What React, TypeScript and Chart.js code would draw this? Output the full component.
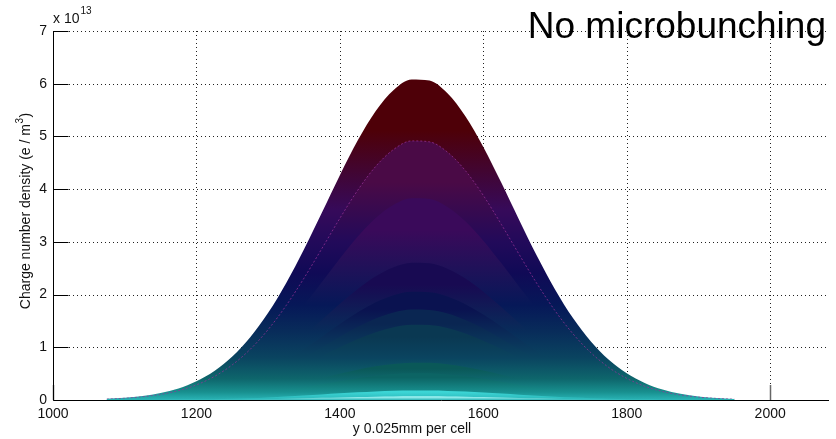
import React, { useEffect, useRef } from "react";
import { Chart, registerables } from "chart.js";

Chart.register(...registerables);

// x positions (cell index)
const cellPositions = [
  1075, 1100, 1125, 1150, 1175, 1200, 1225, 1250, 1275, 1300, 1325, 1350,
  1375, 1400, 1425, 1450, 1475, 1500, 1525, 1550, 1575, 1600, 1625, 1650,
  1675, 1700, 1725, 1750, 1775, 1800, 1825, 1850, 1875, 1900, 1925, 1950,
];

// charge number density layers (units of 1e13 e/m^3), largest first
const densityLayer01 = [
  0.023, 0.042, 0.076, 0.132, 0.22, 0.356, 0.551, 0.825, 1.191, 1.654, 2.216, 2.86,
  3.558, 4.265, 4.926, 5.484, 5.883, 6.082, 6.06, 5.818, 5.383, 4.801, 4.125, 3.416,
  2.726, 2.097, 1.554, 1.11, 0.764, 0.507, 0.324, 0.199, 0.118, 0.068, 0.037, 0.02,
];
const densityLayer02 = [
  0.018, 0.034, 0.062, 0.106, 0.178, 0.287, 0.446, 0.667, 0.962, 1.337, 1.791, 2.312,
  2.875, 3.447, 3.981, 4.432, 4.754, 4.915, 4.897, 4.702, 4.351, 3.88, 3.334, 2.761,
  2.203, 1.694, 1.256, 0.897, 0.617, 0.41, 0.262, 0.161, 0.096, 0.055, 0.03, 0.016,
];
const densityLayer03 = [
  0.014, 0.026, 0.048, 0.083, 0.139, 0.224, 0.347, 0.52, 0.75, 1.041, 1.395, 1.801,
  2.239, 2.685, 3.101, 3.452, 3.703, 3.828, 3.815, 3.663, 3.389, 3.022, 2.597, 2.15,
  1.716, 1.32, 0.978, 0.699, 0.481, 0.319, 0.204, 0.126, 0.074, 0.043, 0.023, 0.013,
];
const densityLayer04 = [
  0.01, 0.018, 0.033, 0.056, 0.094, 0.152, 0.236, 0.353, 0.509, 0.708, 0.948, 1.224,
  1.522, 1.825, 2.108, 2.346, 2.517, 2.602, 2.593, 2.489, 2.303, 2.054, 1.765, 1.462,
  1.166, 0.897, 0.665, 0.475, 0.327, 0.217, 0.139, 0.085, 0.051, 0.029, 0.016, 0.009,
];
const densityLayer05 = [
  0.008, 0.014, 0.026, 0.044, 0.074, 0.12, 0.186, 0.279, 0.402, 0.559, 0.748, 0.966,
  1.201, 1.44, 1.664, 1.852, 1.987, 2.054, 2.046, 1.965, 1.818, 1.621, 1.393, 1.154,
  0.921, 0.708, 0.525, 0.375, 0.258, 0.171, 0.109, 0.067, 0.04, 0.023, 0.013, 0.007,
];
const densityLayer06 = [
  0.006, 0.012, 0.022, 0.037, 0.062, 0.1, 0.155, 0.233, 0.336, 0.466, 0.625, 0.807,
  1.003, 1.202, 1.389, 1.546, 1.659, 1.715, 1.709, 1.641, 1.518, 1.354, 1.163, 0.963,
  0.769, 0.591, 0.438, 0.313, 0.215, 0.143, 0.091, 0.056, 0.033, 0.019, 0.01, 0.006,
];
const densityLayer07 = [
  0.005, 0.01, 0.018, 0.031, 0.052, 0.083, 0.129, 0.193, 0.279, 0.388, 0.52, 0.671,
  0.834, 1.0, 1.155, 1.286, 1.379, 1.426, 1.421, 1.364, 1.262, 1.125, 0.967, 0.801,
  0.639, 0.491, 0.364, 0.26, 0.179, 0.119, 0.076, 0.047, 0.028, 0.016, 0.009, 0.005,
];
const densityLayer08 = [
  0.003, 0.005, 0.009, 0.015, 0.026, 0.041, 0.064, 0.096, 0.139, 0.193, 0.258, 0.333,
  0.414, 0.496, 0.573, 0.638, 0.685, 0.708, 0.705, 0.677, 0.627, 0.559, 0.48, 0.398,
  0.317, 0.244, 0.181, 0.129, 0.089, 0.059, 0.038, 0.023, 0.014, 0.008, 0.004, 0.002,
];
const densityLayer09 = [
  0.002, 0.004, 0.006, 0.011, 0.018, 0.03, 0.046, 0.069, 0.1, 0.138, 0.185, 0.239,
  0.297, 0.357, 0.412, 0.458, 0.492, 0.508, 0.507, 0.486, 0.45, 0.401, 0.345, 0.286,
  0.228, 0.175, 0.13, 0.093, 0.064, 0.042, 0.027, 0.017, 0.01, 0.006, 0.003, 0.002,
];
const densityLayer10 = [
  0.001, 0.001, 0.002, 0.004, 0.006, 0.01, 0.016, 0.024, 0.035, 0.049, 0.065, 0.084,
  0.105, 0.126, 0.145, 0.162, 0.174, 0.179, 0.179, 0.172, 0.159, 0.142, 0.122, 0.101,
  0.08, 0.062, 0.046, 0.033, 0.023, 0.015, 0.01, 0.006, 0.003, 0.002, 0.001, 0.001,
];
const densityLayer11 = [
  0, 0, 0.001, 0.002, 0.003, 0.004, 0.006, 0.009, 0.014, 0.019, 0.025, 0.033,
  0.041, 0.049, 0.057, 0.063, 0.068, 0.07, 0.07, 0.067, 0.062, 0.055, 0.047, 0.039,
  0.031, 0.024, 0.018, 0.013, 0.009, 0.006, 0.004, 0.002, 0.001, 0.001, 0, 0,
];

const densityLayers = [
  densityLayer01, densityLayer02, densityLayer03, densityLayer04, densityLayer05, densityLayer06,
  densityLayer07, densityLayer08, densityLayer09, densityLayer10, densityLayer11,
];

const xTickValues = [1000, 1200, 1400, 1600, 1800, 2000];
const yTickValues = [0, 1, 2, 3, 4, 5, 6, 7];

// styles
const layerTopColors = [
  "#4e0008", "#4a0a46", "#3a0a5a", "#180a52", "#0a1250", "#0a2652",
  "#0a3852", "#0a5858", "#0c6464", "#3cd6d6", "#a4f4f4",
];
const tailStops: [number, string][] = [
  [0.0, "#2ab4b6"],
  [0.15, "#18908f"],
  [0.4, "#0e666c"],
  [0.8, "#0a4460"],
  [1.3, "#082c5a"],
  [1.8, "#061858"],
  [2.4, "#100a56"],
  [3.0, "#220a5a"],
  [3.6, "#360a5a"],
];

const FONT = "'Liberation Sans', Arial, Helvetica, sans-serif";

function makeFill(chart: any, values: number[], topColor: string) {
  const { chartArea, scales } = chart;
  if (!chartArea || !scales.y) return topColor;
  const peak = Math.max(...values);
  const y0 = scales.y.getPixelForValue(0);
  const yp = scales.y.getPixelForValue(peak);
  const g = chart.ctx.createLinearGradient(0, y0, 0, yp);
  for (const [v, c] of tailStops) {
    if (v <= 0.62 * peak) g.addColorStop(v / peak, c);
  }
  g.addColorStop(0.84, topColor);
  g.addColorStop(1, topColor);
  return g;
}

const decorPlugin = {
  id: "decor",
  beforeDatasetsDraw(chart: any) {
    const { ctx, chartArea: a, scales } = chart;
    const x = scales.x;
    const y = scales.y;
    ctx.save();
    ctx.strokeStyle = "#222";
    ctx.lineWidth = 1;
    ctx.setLineDash([1, 3]);
    for (const t of yTickValues) {
      if (t === 0) continue;
      const py = Math.round(y.getPixelForValue(t)) + 0.5;
      ctx.beginPath();
      ctx.moveTo(a.left, py);
      ctx.lineTo(a.right, py);
      ctx.stroke();
    }
    for (const t of xTickValues) {
      if (t === 1000) continue;
      const px = Math.round(x.getPixelForValue(t)) + 0.5;
      ctx.beginPath();
      ctx.moveTo(px, a.top);
      ctx.lineTo(px, a.bottom);
      ctx.stroke();
    }
    ctx.setLineDash([]);
    ctx.strokeStyle = "#666";
    ctx.lineWidth = 1.5;
    for (const t of xTickValues) {
      const px = Math.round(x.getPixelForValue(t)) + 0.5;
      ctx.beginPath();
      ctx.moveTo(px, a.bottom);
      ctx.lineTo(px, a.bottom - 15);
      ctx.stroke();
    }
    ctx.restore();
  },
  afterDatasetsDraw(chart: any) {
    const { ctx, chartArea: a, scales } = chart;
    const y = scales.y;
    ctx.save();
    ctx.strokeStyle = "#000";
    ctx.lineWidth = 1;
    const L = Math.round(a.left) + 0.5;
    const B = Math.round(a.bottom) + 0.5;
    ctx.beginPath();
    ctx.moveTo(L, a.top);
    ctx.lineTo(L, B);
    ctx.lineTo(a.right, B);
    ctx.stroke();
    for (const t of yTickValues) {
      const py = Math.round(y.getPixelForValue(t)) + 0.5;
      ctx.beginPath();
      ctx.moveTo(L, py);
      ctx.lineTo(L + 15, py);
      ctx.stroke();
    }
    ctx.restore();
  },
  afterDraw(chart: any) {
    const { ctx, chartArea: a } = chart;
    ctx.save();
    ctx.fillStyle = "#111";
    ctx.textBaseline = "alphabetic";
    // exponent
    ctx.textAlign = "left";
    ctx.font = `14px ${FONT}`;
    ctx.fillText("x 10", a.left, 23);
    const w10 = ctx.measureText("x 10").width;
    ctx.font = `10px ${FONT}`;
    ctx.fillText("13", a.left + w10 + 1, 14);
    // title
    ctx.fillStyle = "#000";
    ctx.font = `37px ${FONT}`;
    ctx.textAlign = "right";
    ctx.fillText("No microbunching", 826, 38);
    // x label
    ctx.fillStyle = "#111";
    ctx.font = `14px ${FONT}`;
    ctx.textAlign = "center";
    ctx.fillText("y 0.025mm per cell", 412, 433);
    // y label
    ctx.translate(30, 211);
    ctx.rotate(-Math.PI / 2);
    const main = "Charge number density (e / m";
    ctx.font = `14px ${FONT}`;
    const wMain = ctx.measureText(main).width;
    ctx.font = `10px ${FONT}`;
    const wSup = ctx.measureText("3").width;
    ctx.font = `14px ${FONT}`;
    const wEnd = ctx.measureText(")").width;
    const total = wMain + wSup + 1 + wEnd;
    let sx = -total / 2;
    ctx.textAlign = "left";
    ctx.fillText(main, sx, 0);
    sx += wMain;
    ctx.font = `10px ${FONT}`;
    ctx.fillText("3", sx + 0.5, -7);
    sx += wSup + 1;
    ctx.font = `14px ${FONT}`;
    ctx.fillText(")", sx, 0);
    ctx.restore();
  },
};

export default function App() {
  const canvasRef = useRef<HTMLCanvasElement | null>(null);

  useEffect(() => {
    const canvas = canvasRef.current;
    if (!canvas) return;

    const datasets = densityLayers
      .map((layer, i) => ({
        label: `layer ${i + 1}`,
        data: cellPositions.map((x, j) => ({ x, y: layer[j] })),
        fill: "origin",
        backgroundColor: (c: any) => makeFill(c.chart, layer, layerTopColors[i]),
        borderColor: i === 1 ? "rgba(150,50,150,0.75)" : "rgba(0,0,0,0)",
        borderWidth: i === 1 ? 1 : 0,
        borderDash: i === 1 ? [2, 2] : [],
        pointRadius: 0,
        cubicInterpolationMode: "monotone" as const,
      }))
      .reverse(); // smallest first so it is drawn on top

    const chart = new Chart(canvas, {
      type: "line",
      data: { datasets: datasets as any },
      plugins: [decorPlugin],
      options: {
        animation: false,
        responsive: false,
        devicePixelRatio: 1,
        layout: { padding: { top: 31, right: 7, left: 0, bottom: 0 } },
        plugins: {
          legend: { display: false },
          tooltip: { enabled: false },
          title: { display: false },
        },
        scales: {
          x: {
            type: "linear",
            min: 1000,
            max: 2082,
            afterBuildTicks: (s: any) => {
              s.ticks = xTickValues.map((v) => ({ value: v }));
            },
            afterFit: (s: any) => {
              s.height = 39;
            },
            grid: { display: false, drawTicks: false },
            border: { display: false },
            ticks: {
              padding: 6,
              color: "#111",
              font: { family: FONT, size: 14 },
              maxRotation: 0,
              autoSkip: false,
              callback: (v: any) => String(v),
            },
          },
          y: {
            type: "linear",
            min: 0,
            max: 7,
            afterBuildTicks: (s: any) => {
              s.ticks = yTickValues.map((v) => ({ value: v }));
            },
            afterFit: (s: any) => {
              s.width = 53;
            },
            grid: { display: false, drawTicks: false },
            border: { display: false },
            ticks: {
              padding: 6,
              color: "#111",
              font: { family: FONT, size: 14 },
              callback: (v: any) => String(v),
            },
          },
        },
      },
    });

    return () => {
      chart.destroy();
    };
  }, []);

  return (
    <div style={{ position: "absolute", left: 0, top: 0, width: 836, height: 439, background: "#fff" }}>
      <canvas ref={canvasRef} width={836} height={439} style={{ display: "block" }} />
    </div>
  );
}
